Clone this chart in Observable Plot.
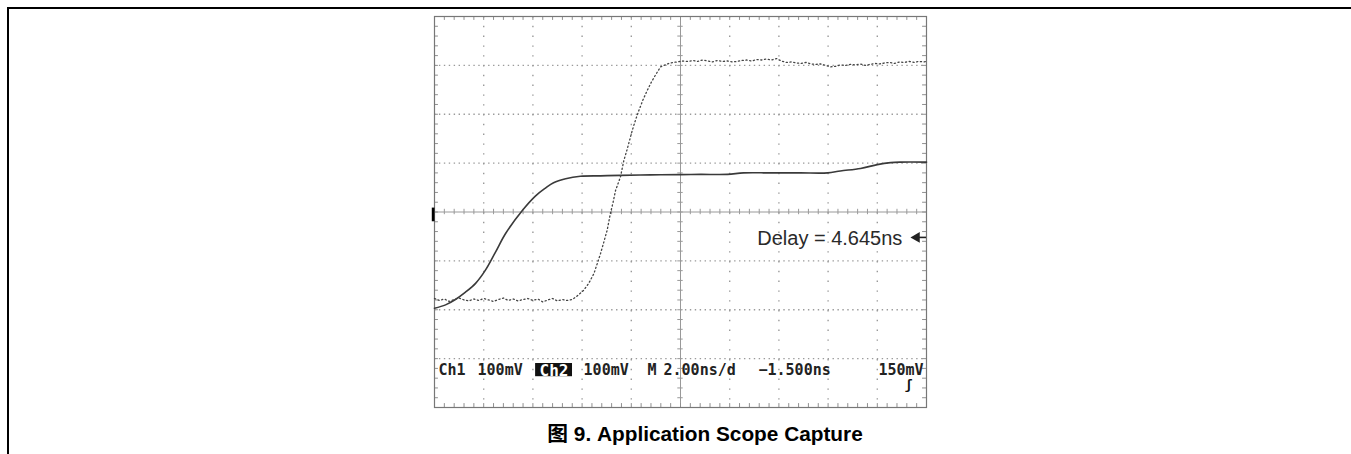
<!DOCTYPE html>
<html>
<head>
<meta charset="utf-8">
<script src="https://cdn.jsdelivr.net/npm/d3@7"></script>
<script src="https://cdn.jsdelivr.net/npm/@observablehq/plot@0.6"></script>
<style>
  html, body { margin: 0; padding: 0; background: #fff; }
  body { width: 1351px; height: 454px; position: relative; overflow: hidden; }
  #frame { position: absolute; left: 7px; top: 7px; width: 1344px; height: 447px;
           border-left: 2px solid #000; border-top: 2px solid #000; box-sizing: border-box; }
  #chart { position: absolute; left: 0; top: 0; }
  #caption { position: absolute; left: 455px; width: 500px; top: 417px; height: 20px; line-height: 20px;
             text-align: center; font: bold 20.8px "Liberation Sans", Arial, "Noto Sans CJK SC", sans-serif; color: #000; }
</style>
</head>
<body>
<div id="frame"></div>
<div id="chart"></div>
<div id="caption">图 9. Application Scope Capture</div>
<script>
// ---- Data (time in ns relative to screen centre, amplitude in mV) ----
// Ch1: slow edge (solid trace)
const ch1Time = [-10, -9.55, -9.15, -8.74, -8.33, -7.93, -7.52, -7.11, -6.43, -5.89, -5.49, -5.16, -4.67, -4.07, -3.25, -2.44, -1.22, 0, 0.81, 1.91, 2.56, 3.66, 4.88, 5.98, 6.5, 7.32, 8.0, 8.54, 8.94, 10];
const ch1Volt = [-197, -190, -179, -164, -146, -119, -82, -44, 3, 33, 49, 60, 68, 73, 74, 75, 76, 76.5, 77, 77, 80, 80, 80, 80, 84, 89, 97, 101, 102, 102];

// Ch2: fast edge (dotted trace)
const ch2Time = [-10, -9.8, -9.6, -9.4, -9.2, -9, -8.8, -8.6, -8.4, -8.2, -8, -7.8, -7.6, -7.4, -7.2, -7, -6.8, -6.6, -6.4, -6.2, -6, -5.8, -5.6, -5.4, -5.2, -5, -4.8, -4.6,
  -4.4, -4.23, -3.93, -3.72, -3.52, -3.38, -3.25, -3.12, -2.98, -2.85, -2.74, -2.64, -2.44, -2.3, -2.17, -1.96, -1.83, -1.69, -1.52, -1.35, -1.18, -1.02, -0.81, -0.54, -0.3, -0.13, 0.1, 0.3,
  0.5, 0.7, 0.9, 1.1, 1.3, 1.5, 1.7, 1.9, 2.1, 2.3, 2.5, 2.7, 2.9, 3.1, 3.3, 3.5, 3.7, 3.9, 4.1, 4.3, 4.5, 4.7, 4.9, 5.1, 5.3, 5.5, 5.7, 5.9, 6.1, 6.3, 6.5, 6.7, 6.9, 7.1, 7.3, 7.5, 7.7, 7.9, 8.1, 8.3, 8.5, 8.7, 8.9, 9.1, 9.3, 9.5, 9.7, 9.9, 10];
const ch2Volt = [-177, -181, -178, -183, -179, -176, -180, -182, -178, -181, -177, -180, -183, -179, -176, -181, -178, -182, -179, -177, -181, -178, -184, -180, -177, -182, -179, -181,
  -179, -173, -160, -145, -126, -105, -85, -62, -37, -3, 20, 44, 72, 106, 128, 167, 188, 208, 230, 249, 266, 280, 297, 303, 306, 307, 309, 308,
  310, 308, 311, 309, 307, 310, 308, 309, 307, 308, 310, 311, 309, 312, 311, 313, 311, 314, 309, 306, 307, 305, 304, 306, 303, 302, 303, 300, 297, 298, 301, 300, 302, 301, 303, 300, 302, 304, 303, 305, 306, 304, 307, 306, 308, 306, 308, 307, 308];

// Status / annotation texts
const statusLabels = ["Ch1", "100mV", "100mV", "M", "2.00ns/d", "\u22121.500ns"];
const statusTimes = [-9.84, -8.25, -3.94, -1.34, -0.69, 3.17];
const ch2Badge = "Ch2";
const triggerLevel = "150mV";
const delayText = "Delay = 4.645ns";

// Graticule: 10 x 8 divisions, 2 ns/div and 100 mV/div
const xMajor = [-8, -6, -4, -2, 2, 4, 6, 8];
const yMajor = [-300, -200, -100, 100, 200, 300];
const xMinor = d3.range(-10, 10.001, 0.4).map(v => +v.toFixed(2));
const yMinor = d3.range(-400, 400.001, 20);

const ch1 = ch1Time.map((t, i) => ({t, v: ch1Volt[i]}));
const ch2 = ch2Time.map((t, i) => ({t, v: ch2Volt[i]}));

const grid = "#9a9a9a";
const statusY = -324.5;
const mono = "DejaVu Sans Mono";

const chart = Plot.plot({
  width: 1351,
  height: 412,
  marginLeft: 434,
  marginRight: 425,
  marginTop: 16,
  marginBottom: 5,
  x: {domain: [-10, 10], axis: null},
  y: {domain: [-400, 400], axis: null},
  style: {background: "transparent", overflow: "visible"},
  marks: [
    // dotted graticule
    Plot.ruleX(xMajor, {stroke: grid, strokeWidth: 1.4, strokeDasharray: "1.4,8.4"}),
    Plot.ruleY(yMajor, {stroke: grid, strokeWidth: 1.4, strokeDasharray: "1.4,3.52"}),
    // centre cross
    Plot.ruleX([0], {stroke: "#999", strokeWidth: 1}),
    Plot.ruleY([0], {stroke: "#999", strokeWidth: 1}),
    Plot.ruleX(xMinor, {y1: -5.5, y2: 5.5, stroke: "#999"}),
    Plot.ruleY(yMinor, {x1: -0.11, x2: 0.11, stroke: "#999"}),
    // border ticks
    Plot.ruleX(xMinor, {y1: 400, y2: 392, stroke: "#909090"}),
    Plot.ruleX(xMinor, {y1: -400, y2: -392, stroke: "#909090"}),
    Plot.ruleY(yMinor, {x1: -10, x2: -9.84, stroke: "#909090"}),
    Plot.ruleY(yMinor, {x1: 10, x2: 9.84, stroke: "#909090"}),
    Plot.frame({stroke: "#777", strokeWidth: 1.2}),
    // ground reference marker
    Plot.rect([0], {x1: -10.09, x2: -9.98, y1: 8, y2: -20, fill: "#000"}),
    // traces
    Plot.line(ch1, {x: "t", y: "v", stroke: "#3a3a3a", strokeWidth: 1.6, curve: "catmull-rom"}),
    Plot.line(ch2, {x: "t", y: "v", stroke: "#444", strokeWidth: 1.3, strokeDasharray: "1.2,2.6"}),
    // delay readout
    Plot.text([delayText], {x: 3.12, y: -55, text: d => d, textAnchor: "start", fontSize: 20,
      fontFamily: "Liberation Sans, Arial, sans-serif", fill: "#2a2a2a"}),
    Plot.dot([0], {x: 9.6, y: -52, symbol: "triangle", rotate: -90, r: 4, fill: "#222", stroke: "none"}),
    Plot.ruleY([0], {y: () => -52, x1: 9.6, x2: 10, stroke: "#222", strokeWidth: 1.6}),
    // status line
    Plot.text(statusLabels, {x: (d, i) => statusTimes[i], y: statusY, text: d => d, textAnchor: "start",
      fontSize: 15, fontWeight: "bold", fontFamily: mono, fill: "#222"}),
    Plot.rect([0], {x1: -5.89, x2: -4.39, y1: -310, y2: -337, fill: "#111"}),
    Plot.text([ch2Badge], {x: -5.14, y: statusY, text: d => d, textAnchor: "middle",
      fontSize: 16, fontWeight: "bold", fontFamily: mono, fill: "#fff"}),
    Plot.text([triggerLevel], {x: 9.88, y: statusY, text: d => d, textAnchor: "end",
      fontSize: 15, fontWeight: "bold", fontFamily: mono, fill: "#222"}),
    Plot.text(["\u0283"], {x: 9.27, y: -354, text: d => d, textAnchor: "middle",
      fontSize: 13, fontWeight: "bold", fontFamily: mono, fill: "#111"})
  ]
});
document.getElementById("chart").appendChild(chart);
</script>
</body>
</html>
